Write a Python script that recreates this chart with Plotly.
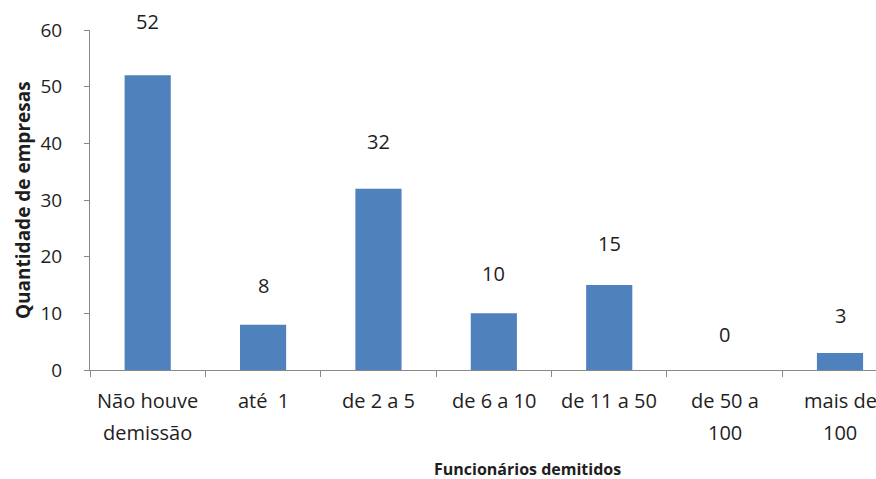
import plotly.graph_objects as go

categories = ["Não houve demissão", "até  1", "de 2 a 5", "de 6 a 10", "de 11 a 50", "de 50 a 100", "mais de 100"]
line1 = ["Não houve", "até  1", "de 2 a 5", "de 6 a 10", "de 11 a 50", "de 50 a", "mais de"]
line2 = ["demissão", "", "", "", "", "100", "100"]
values = [52, 8, 32, 10, 15, 0, 3]
y_ticks = [0, 10, 20, 30, 40, 50, 60]

FONT = "Open Sans"
TXT = "#1e1e1e"
AX = "#888888"

fig = go.Figure()
fig.add_trace(go.Bar(x=categories, y=values, marker=dict(color="#4F81BD", line=dict(width=0)),
                     hoverinfo="skip"))

ann = []
for c, v in zip(categories, values):
    ann.append(dict(x=c, y=v, xref="x", yref="y", text=str(v), showarrow=False,
                    yshift=36 + 0.35 * v, font=dict(family=FONT, size=20, color=TXT)))
for c, a, b in zip(categories, line1, line2):
    ann.append(dict(x=c, y=0, xref="x", yref="paper", text=a, showarrow=False,
                    yanchor="middle", yshift=-30, font=dict(family=FONT, size=20, color=TXT)))
    if b:
        ann.append(dict(x=c, y=0, xref="x", yref="paper", text=b, showarrow=False,
                        yanchor="middle", yshift=-62, font=dict(family=FONT, size=20, color=TXT)))
ann.append(dict(x=0, y=0, xref="paper", yref="paper", text="<b>Funcionários demitidos</b>",
                showarrow=False, xanchor="center", yanchor="middle", xshift=437, yshift=-99,
                font=dict(family=FONT, size=16, color=TXT)))
ann.append(dict(x=0, y=0.5, xref="paper", yref="paper", text="<b>Quantidade de empresas</b>",
                showarrow=False, textangle=-90, xanchor="center", yanchor="middle", xshift=-67,
                font=dict(family=FONT, size=19, color=TXT)))

fig.update_layout(
    width=876, height=479,
    margin=dict(l=90, r=0, t=30, b=109),
    paper_bgcolor="white", plot_bgcolor="white",
    bargap=0.6, showlegend=False,
    annotations=ann,
    font=dict(family=FONT, color=TXT),
)
fig.update_xaxes(type="category", range=[-0.5, 6.312], showticklabels=False,
                 tickson="boundaries", ticks="outside", ticklen=6, tickcolor=AX,
                 showline=True, linecolor=AX, linewidth=1, showgrid=False, zeroline=False)
fig.update_yaxes(range=[0, 60], tickvals=y_ticks, ticks="outside", ticklen=5, tickcolor=AX,
                 showline=True, linecolor=AX, linewidth=1, showgrid=False, zeroline=False,
                 ticklabelstandoff=18, tickfont=dict(family=FONT, size=19, color=TXT))

fig.write_html("out.html")
